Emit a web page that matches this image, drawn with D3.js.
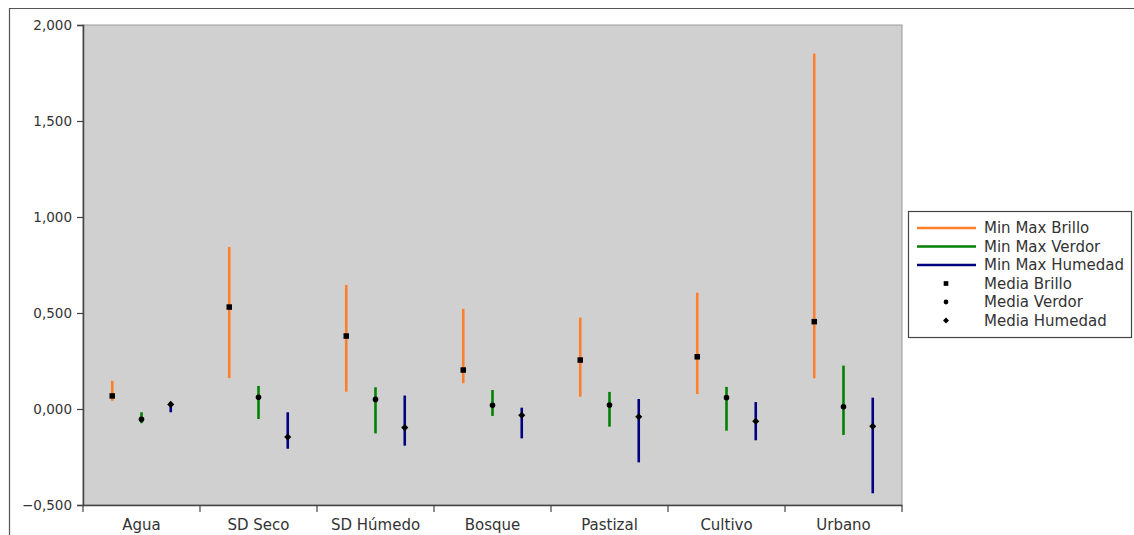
<!DOCTYPE html>
<html><head><meta charset="utf-8">
<script src="https://cdn.jsdelivr.net/npm/d3@7/dist/d3.min.js"></script>
<style>body{margin:0;background:#fff;}svg{display:block;font-family:"DejaVu Sans",sans-serif;}</style>
</head><body>
<svg id="c" width="1134" height="535"></svg>
<script>
const categories = ["Agua","SD Seco","SD Húmedo","Bosque","Pastizal","Cultivo","Urbano"];
const brilloMin = [0.043,0.161,0.090,0.134,0.064,0.078,0.160];
const brilloMax = [0.147,0.844,0.646,0.522,0.476,0.606,1.852];
const brilloMean = [0.068,0.531,0.380,0.203,0.255,0.272,0.455];
const verdorMin = [-0.074,-0.052,-0.127,-0.036,-0.092,-0.113,-0.135];
const verdorMax = [-0.017,0.120,0.113,0.099,0.089,0.115,0.226];
const verdorMean = [-0.054,0.061,0.050,0.019,0.021,0.059,0.012];
const humedadMin = [-0.017,-0.207,-0.191,-0.153,-0.278,-0.163,-0.439];
const humedadMax = [0.036,-0.017,0.070,0.007,0.052,0.036,0.059];
const humedadMean = [0.024,-0.146,-0.097,-0.033,-0.040,-0.064,-0.090];
const yTicks = [-0.5,0,0.5,1,1.5,2];
const seriesNames = ["Brillo","Verdor","Humedad"];
const colors = ["#ff7f2a","#008000","#000080"];

const series = [
  {name:"Brillo", min:brilloMin, max:brilloMax, mean:brilloMean, color:colors[0]},
  {name:"Verdor", min:verdorMin, max:verdorMax, mean:verdorMean, color:colors[1]},
  {name:"Humedad", min:humedadMin, max:humedadMax, mean:humedadMean, color:colors[2]}
];

function marker(sel, name, cx, cy, k) {
  k = k || 1;
  if (name === "Brillo") {
    const s = 5.5*k;
    sel.append("rect").attr("x",cx-s/2).attr("y",cy-s/2).attr("width",s).attr("height",s).attr("fill","#000");
  } else if (name === "Verdor") {
    sel.append("circle").attr("cx",cx).attr("cy",cy).attr("r",2.8*k).attr("fill","#000");
  } else {
    const s = 5*k;
    sel.append("rect").attr("x",-s/2).attr("y",-s/2).attr("width",s).attr("height",s).attr("fill","#000")
      .attr("transform",`translate(${cx},${cy}) rotate(45)`);
  }
}

const svg = d3.select("#c");
svg.append("path").attr("d","M9.5,535 V8.5 H1134").attr("fill","none").attr("stroke","#555").attr("stroke-width",1.2);

const L=83, R=902, T=25, B=505;
const x = d3.scaleBand().domain(categories).range([L,R]);
const xs = d3.scalePoint().domain(seriesNames).range([0.25,0.75]);
const y = d3.scaleLinear().domain([-0.5,2]).range([B,T]);

svg.append("rect").attr("x",L).attr("y",T).attr("width",R-L).attr("height",B-T)
  .attr("fill","#d0d0d0").attr("stroke","#999").attr("stroke-width",1);

const fmtY = v => { const s = d3.format(".3f")(Math.abs(v)); const [i,f]=s.split("."); return (v<0?"−":"")+i+","+f; };

const ya = svg.append("g").attr("transform",`translate(${L},0)`)
  .call(d3.axisLeft(y).tickValues(yTicks).tickFormat(fmtY).tickSize(6).tickPadding(5));
ya.select(".domain").attr("stroke","#444").attr("stroke-width",1.5);
ya.selectAll(".tick line").attr("stroke","#444").attr("stroke-width",1.2);
ya.selectAll("text").attr("fill","#333").attr("font-size",13.5).attr("font-family","DejaVu Sans");

const xa = svg.append("g").attr("transform",`translate(0,${B})`)
  .call(d3.axisBottom(x).tickSize(0).tickPadding(14));
xa.select(".domain").attr("stroke","#444").attr("stroke-width",1.5);
xa.selectAll("text").attr("fill","#333").attr("font-size",15).attr("font-family","DejaVu Sans");
const bounds = categories.map(c=>x(c)).concat([R]);
svg.append("g").selectAll("line").data(bounds).join("line")
  .attr("x1",d=>d).attr("x2",d=>d).attr("y1",B).attr("y2",B+7)
  .attr("stroke","#444").attr("stroke-width",1.2);

const g = svg.append("g");
series.forEach(s=>{
  categories.forEach((c,i)=>{
    const cx = x(c) + xs(s.name)*x.bandwidth();
    g.append("line").attr("x1",cx).attr("x2",cx).attr("y1",y(s.max[i])).attr("y2",y(s.min[i]))
      .attr("stroke",s.color).attr("stroke-width",2.6);
  });
});
series.forEach(s=>{
  categories.forEach((c,i)=>{
    const cx = x(c) + xs(s.name)*x.bandwidth();
    marker(g, s.name, cx, y(s.mean[i]));
  });
});

const lg = svg.append("g");
lg.append("rect").attr("x",908.5).attr("y",211.5).attr("width",223).attr("height",126)
  .attr("fill","#fff").attr("stroke","#444").attr("stroke-width",1.2);
const rowsY = [228,246.5,265,283.5,302,320.5];
series.forEach((s,i)=>{
  lg.append("line").attr("x1",917).attr("x2",976).attr("y1",rowsY[i]).attr("y2",rowsY[i])
    .attr("stroke",s.color).attr("stroke-width",2.6);
  lg.append("text").attr("x",984).attr("y",rowsY[i]+5).text("Min Max "+s.name)
    .attr("font-size",15).attr("fill","#333");
});
series.forEach((s,i)=>{
  const yy = rowsY[i+3];
  marker(lg, s.name, 946, yy, 0.85);
  lg.append("text").attr("x",984).attr("y",yy+5).text("Media "+s.name)
    .attr("font-size",15).attr("fill","#333");
});
</script>
</body></html>
